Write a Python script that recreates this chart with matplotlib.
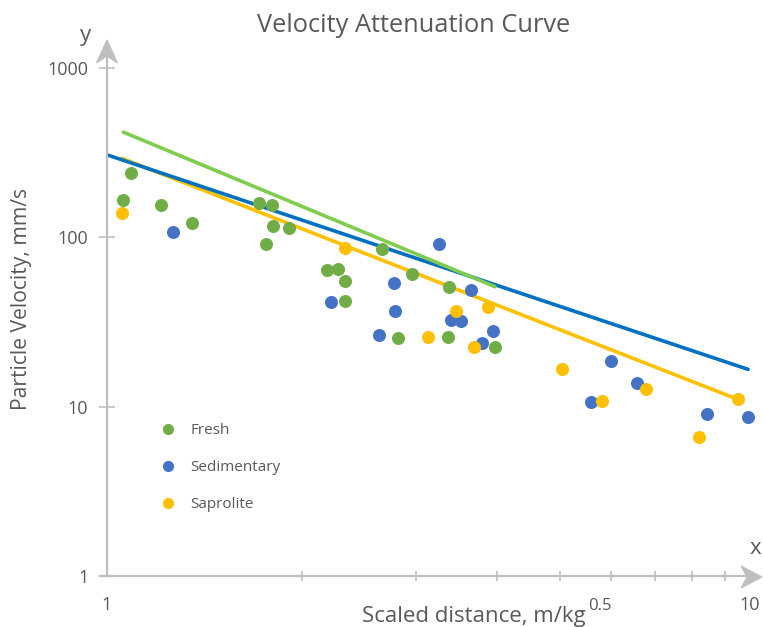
import matplotlib
matplotlib.use("Agg")
import matplotlib.pyplot as plt
from matplotlib.lines import Line2D
from matplotlib.patches import Polygon
from matplotlib.ticker import LogLocator, NullFormatter

plt.rcParams['font.family'] = ['Open Sans', 'DejaVu Sans']

# ---------------- data ----------------
fresh_x = [1.088, 1.060, 1.210, 1.353, 1.718, 1.797, 1.806, 1.909, 1.759, 2.654,
           2.183, 2.275, 2.330, 2.956, 3.375, 2.330, 2.810, 3.356, 3.974]
fresh_y = [239, 166, 156, 122, 160, 156, 117, 113, 91, 85,
           64, 65, 55, 61, 51, 42, 25.6, 25.9, 22.6]

sed_x = [1.266, 3.257, 2.773, 3.641, 3.392, 3.514, 2.214, 2.783, 3.946, 2.629,
         3.786, 5.988, 6.568, 5.583, 8.424, 9.765]
sed_y = [108, 91, 54, 49, 32.5, 32.1, 41.7, 36.8, 28.1, 26.4,
         23.7, 18.6, 13.8, 10.7, 9.0, 8.7]

sap_x = [1.056, 2.330, 3.868, 3.456, 3.125, 3.685, 5.03, 6.789, 5.811, 9.403, 8.195]
sap_y = [139, 86, 38.6, 36.9, 25.9, 22.6, 16.6, 12.8, 10.85, 11.06, 6.65]

# trend line end points
trend_fresh_x = [1.06, 3.97]
trend_fresh_y = [418, 51.1]
trend_sed_x = [1.0, 9.76]
trend_sed_y = [307, 16.6]
trend_sap_x = [1.054, 9.40]
trend_sap_y = [293, 11.06]

series_names = ["Fresh", "Sedimentary", "Saprolite"]
x_ticks = [1, 10]
x_tick_labels = ["1", "10"]
y_ticks = [1, 10, 100, 1000]
y_tick_labels = ["1", "10", "100", "1000"]

# ---------------- styling ----------------
W, H = 763, 627
TXT = '#595959'
AX = '#bfbfbf'
c_fresh, c_sed, c_sap = '#70ad47', '#4472c4', '#ffc000'
l_fresh, l_sed, l_sap = '#7fcc4f', '#0070c0', '#ffc000'

fig = plt.figure(figsize=(W / 100, H / 100), dpi=100)
fx = lambda px: px / W
fy = lambda py: 1 - py / H

ax = fig.add_axes([fx(107), fy(576), 648 / W, 508 / H])
ax.set_xscale('log')
ax.set_yscale('log')
ax.set_xlim(1, 10)
ax.set_ylim(1, 1000)
for s in ax.spines.values():
    s.set_visible(False)

# trend lines
ax.plot(trend_sap_x, trend_sap_y, color=l_sap, lw=2.6, solid_capstyle='round', zorder=2)
ax.plot(trend_sed_x, trend_sed_y, color=l_sed, lw=2.6, solid_capstyle='round', zorder=2.1)
ax.plot(trend_fresh_x, trend_fresh_y, color=l_fresh, lw=2.6, solid_capstyle='round', zorder=2.2)

# points
ax.scatter(sed_x, sed_y, s=88, color=c_sed, linewidths=0, zorder=3, label=series_names[1])
ax.scatter(fresh_x, fresh_y, s=88, color=c_fresh, linewidths=0, zorder=3.1, label=series_names[0])
ax.scatter(sap_x, sap_y, s=88, color=c_sap, linewidths=0, zorder=3.2, label=series_names[2])

# ticks
ax.set_xticks(x_ticks, ["", ""])
ax.set_yticks(y_ticks, y_tick_labels)
ax.xaxis.set_minor_locator(LogLocator(base=10, subs=[2, 3, 4, 5, 6, 7, 8, 9]))
ax.xaxis.set_minor_formatter(NullFormatter())
ax.yaxis.set_minor_locator(LogLocator(base=10, subs=[]))
ax.yaxis.set_minor_formatter(NullFormatter())
ax.tick_params(axis='x', which='major', length=0)
ax.tick_params(axis='x', which='minor', direction='inout', length=7, width=1.2, color=AX)
ax.tick_params(axis='y', which='major', direction='inout', length=11, width=1.2, color=AX,
               pad=8.0, labelsize=13, labelcolor=TXT)
ax.tick_params(axis='y', which='minor', length=0)

# x tick labels placed like the reference (the "10" sits just left of the arrow tip)
for xv, lab, px in zip(x_ticks, x_tick_labels, [107, 750]):
    fig.text(fx(px), fy(605), lab, ha='center', va='center', fontsize=13, color=TXT)

# axis lines with arrows
fig.add_artist(Line2D([fx(107), fx(107)], [fy(576), fy(54)], transform=fig.transFigure,
                      color=AX, lw=1.6, zorder=1))
fig.add_artist(Line2D([fx(100), fx(748)], [fy(576), fy(576)], transform=fig.transFigure,
                      color=AX, lw=1.6, zorder=1))
fig.add_artist(Polygon([(fx(107), fy(40)), (fx(96.5), fy(63)), (fx(107), fy(56)), (fx(117.5), fy(63))],
                       closed=True, transform=fig.transFigure, facecolor=AX, edgecolor=AX, lw=0.8))
fig.add_artist(Polygon([(fx(762), fy(577)), (fx(741), fy(566)), (fx(747), fy(577)), (fx(741), fy(588))],
                       closed=True, transform=fig.transFigure, facecolor=AX, edgecolor=AX, lw=0.8))

# axis letters
fig.text(fx(86), fy(36), 'y', ha='center', va='center', fontsize=16, color=TXT)
fig.text(fx(755), fy(548), 'x', ha='center', va='center', fontsize=16, color=TXT)

# title and labels
fig.text(fx(414), fy(25), 'Velocity Attenuation Curve', ha='center', va='center',
         fontsize=18.3, color=TXT)
fig.text(fx(22), fy(299), 'Particle Velocity, mm/s', ha='center', va='center',
         rotation=90, fontsize=15.2, color=TXT)
xl = fig.text(fx(362), fy(622), 'Scaled distance, m/kg', ha='left', va='baseline',
              fontsize=16, color=TXT)
fig.canvas.draw()
bb = xl.get_window_extent()
fig.text(bb.x1 / W + 2 / W, fy(610), '0.5', ha='left', va='baseline', fontsize=12, color=TXT)

# legend
handles = [Line2D([], [], ls='none', marker='o', markersize=7, color=c) for c in (c_fresh, c_sed, c_sap)]
ax.legend(handles, series_names, loc='upper left', bbox_to_anchor=(fx(160), fy(423)),
          bbox_transform=fig.transFigure, frameon=False, fontsize=11, labelcolor=TXT,
          handlelength=1.0, handletextpad=1.0, labelspacing=1.45, borderpad=0, borderaxespad=0)

fig.savefig('out.png', dpi=100)
